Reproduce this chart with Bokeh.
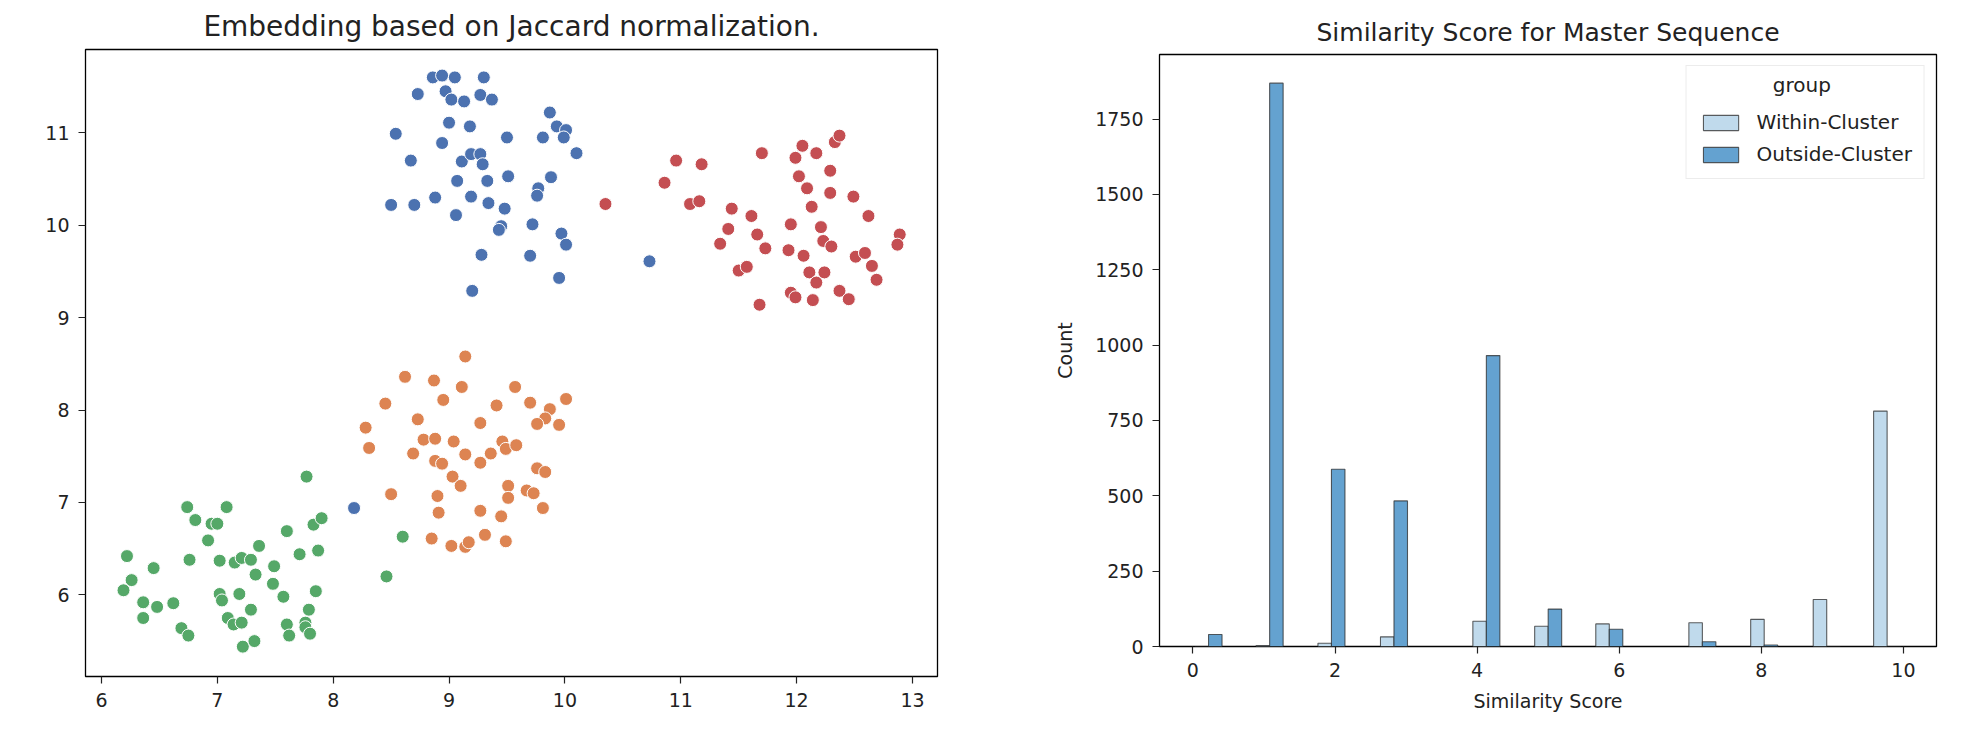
from bokeh.plotting import figure
from bokeh.layouts import row, column
from bokeh.models import FixedTicker, Range1d, Legend, LegendItem, ColumnDataSource, Label
from bokeh.embed import file_html
from bokeh.resources import INLINE

FONT = "DejaVu Sans"

# ---------------- scatter data (embedding) ----------------
blue_x = [8.86, 8.94, 9.05, 9.30, 8.73, 8.97, 9.02, 9.13, 9.27, 9.37, 9.87, 9.00, 9.18, 9.93, 10.01,
          8.54, 8.94, 9.50, 9.81, 9.99, 10.10, 8.67, 9.11, 9.19, 9.27, 9.29, 9.51, 9.07, 9.33, 9.88,
          8.88, 9.19, 9.34, 9.77, 9.76, 8.50, 8.70, 9.48, 9.06, 9.45, 9.43, 9.72, 9.97, 10.01, 9.28,
          9.70, 9.95, 9.20, 10.73, 8.18]
blue_y = [11.60, 11.62, 11.60, 11.60, 11.42, 11.45, 11.36, 11.34, 11.41, 11.36, 11.22, 11.11, 11.07, 11.07, 11.03,
          10.99, 10.89, 10.95, 10.95, 10.95, 10.78, 10.70, 10.69, 10.77, 10.77, 10.66, 10.53, 10.48, 10.48, 10.52,
          10.30, 10.31, 10.24, 10.40, 10.32, 10.22, 10.22, 10.18, 10.11, 9.99, 9.95, 10.01, 9.91, 9.79, 9.68,
          9.67, 9.43, 9.29, 9.61, 6.94]

red_x = [10.35, 10.96, 10.86, 11.18, 11.08, 11.16, 11.70, 12.05, 12.17, 11.99, 12.33, 12.37, 12.29, 12.02,
         12.09, 12.29, 12.49, 12.13, 11.44, 11.61, 12.62, 11.95, 12.21, 11.41, 11.66, 11.34, 11.73, 11.93,
         12.06, 12.23, 12.30, 12.51, 12.59, 12.65, 12.69, 12.89, 12.87, 12.11, 12.24, 12.17, 11.50, 11.57,
         11.95, 11.99, 12.14, 12.37, 12.45, 11.68]
red_y = [10.23, 10.70, 10.46, 10.66, 10.23, 10.26, 10.78, 10.86, 10.78, 10.73, 10.90, 10.97, 10.59, 10.53,
         10.40, 10.35, 10.31, 10.20, 10.18, 10.10, 10.10, 10.01, 9.98, 9.96, 9.90, 9.80, 9.75, 9.73,
         9.67, 9.83, 9.77, 9.66, 9.70, 9.56, 9.41, 9.90, 9.79, 9.49, 9.49, 9.38, 9.51, 9.55,
         9.27, 9.22, 9.19, 9.29, 9.20, 9.14]

orange_x = [9.14, 8.62, 8.87, 9.11, 9.57, 8.45, 8.95, 9.41, 9.70, 10.01, 9.87, 9.83, 8.73, 9.27, 9.76,
            9.95, 8.28, 8.31, 8.78, 8.88, 9.04, 9.46, 9.49, 9.58, 8.69, 9.14, 9.36, 8.88, 8.94, 9.27,
            9.76, 9.83, 9.03, 9.10, 9.51, 9.67, 9.73, 9.51, 8.50, 8.90, 8.91, 9.27, 9.45, 9.81, 8.85,
            9.02, 9.14, 9.17, 9.31, 9.49]
orange_y = [8.58, 8.36, 8.32, 8.25, 8.25, 8.07, 8.11, 8.05, 8.08, 8.12, 8.01, 7.91, 7.90, 7.86, 7.85,
            7.84, 7.81, 7.59, 7.68, 7.69, 7.66, 7.66, 7.58, 7.62, 7.53, 7.52, 7.53, 7.45, 7.42, 7.43,
            7.37, 7.33, 7.28, 7.18, 7.18, 7.13, 7.10, 7.05, 7.09, 7.07, 6.89, 6.91, 6.85, 6.94, 6.61,
            6.53, 6.52, 6.57, 6.65, 6.58]

green_x = [7.77, 6.74, 7.08, 6.81, 6.95, 7.00, 6.92, 7.60, 7.83, 7.90, 6.22, 6.45, 6.76, 7.02, 7.15,
           7.21, 7.29, 7.36, 7.49, 7.71, 7.87, 7.33, 6.26, 6.19, 6.36, 6.48, 6.62, 6.36, 6.69, 6.75,
           7.02, 7.04, 7.19, 7.29, 7.48, 7.57, 7.85, 7.79, 7.09, 7.14, 7.21, 7.60, 7.62, 7.76, 7.76,
           7.80, 7.22, 7.32, 8.60, 8.46]
green_y = [7.28, 6.95, 6.95, 6.81, 6.77, 6.77, 6.59, 6.69, 6.76, 6.83, 6.42, 6.29, 6.38, 6.37, 6.35,
           6.40, 6.38, 6.53, 6.31, 6.44, 6.48, 6.22, 6.16, 6.05, 5.92, 5.87, 5.91, 5.75, 5.64, 5.56,
           6.01, 5.94, 6.01, 5.84, 6.12, 5.98, 6.04, 5.84, 5.75, 5.68, 5.70, 5.68, 5.56, 5.70, 5.65,
           5.58, 5.44, 5.50, 6.63, 6.20]

scatter_xticks = [6, 7, 8, 9, 10, 11, 12, 13]
scatter_yticks = [6, 7, 8, 9, 10, 11]

# ---------------- histogram data ----------------
bin_left = [0.03, 0.89, 1.76, 2.64, 3.94, 4.81, 5.67, 6.98, 7.85, 8.73, 9.58]
within_counts = [0, 3, 11, 32, 84, 67, 75, 79, 90, 156, 781]
outside_counts = [40, 1869, 588, 483, 965, 124, 57, 16, 5, 0, 0]
hist_xticks = [0, 2, 4, 6, 8, 10]
hist_yticks = [0, 250, 500, 750, 1000, 1250, 1500, 1750]
group_labels = ["Within-Cluster", "Outside-Cluster"]
legend_title = "group"

BAR_W = 0.19


def style_axes(p, tick_size="19px"):
    p.grid.visible = False
    p.outline_line_color = "black"
    p.outline_line_width = 1.3
    for ax in (p.xaxis[0], p.yaxis[0]):
        ax.axis_line_color = None
        ax.major_tick_line_color = "#222222"
        ax.major_tick_line_width = 1.2
        ax.major_tick_out = 7
        ax.major_tick_in = 0
        ax.minor_tick_line_color = None
        ax.major_label_text_font = FONT
        ax.major_label_text_font_size = tick_size
        ax.major_label_text_color = "#222222"
        ax.major_label_standoff = 9
        ax.axis_label_text_font = FONT
        ax.axis_label_text_font_style = "normal"
        ax.axis_label_text_color = "#222222"
        ax.axis_label_text_font_size = "19px"


# ---------------- left: scatter ----------------
p1 = figure(width=1008, height=742, output_backend="svg", toolbar_location=None,
            x_range=Range1d(5.862, 13.216), y_range=Range1d(5.117, 11.902),
            min_border_left=85, min_border_right=71, min_border_top=49, min_border_bottom=66,
            title="Embedding based on Jaccard normalization.")
p1.title.text_font = FONT
p1.title.text_font_style = "normal"
p1.title.text_font_size = "28px"
p1.title.text_color = "#222222"
p1.title.align = "center"
p1.title.standoff = 14
style_axes(p1)
p1.xaxis.ticker = FixedTicker(ticks=scatter_xticks)
p1.yaxis.ticker = FixedTicker(ticks=scatter_yticks)

for xs, ys, col in [(blue_x, blue_y, "#4C72B0"), (orange_x, orange_y, "#DD8452"),
                    (green_x, green_y, "#55A868"), (red_x, red_y, "#C44E52")]:
    p1.scatter(xs, ys, size=13, fill_color=col, line_color="white", line_width=1.0)

# ---------------- right: histogram ----------------
p2 = figure(width=966, height=742, output_backend="svg", toolbar_location=None,
            x_range=Range1d(-0.47, 10.465), y_range=Range1d(0, 1964),
            min_border_left=151, min_border_right=38, min_border_top=54, min_border_bottom=96,
            title="Similarity Score for Master Sequence",
            x_axis_label="Similarity Score", y_axis_label="Count")
p2.title.text_font = FONT
p2.title.text_font_style = "normal"
p2.title.text_font_size = "25px"
p2.title.text_color = "#222222"
p2.title.align = "center"
p2.title.standoff = 15
style_axes(p2)
p2.xaxis.ticker = FixedTicker(ticks=hist_xticks)
p2.yaxis.ticker = FixedTicker(ticks=hist_yticks)
p2.xaxis.axis_label_standoff = 10
p2.yaxis.axis_label_standoff = 16

w_left = [b for b in bin_left]
w_right = [b + BAR_W for b in bin_left]
o_left = [b + BAR_W for b in bin_left]
o_right = [b + 2 * BAR_W for b in bin_left]
zeros = [0] * len(bin_left)

src_w = ColumnDataSource(dict(left=w_left, right=w_right, top=within_counts, bottom=zeros))
src_o = ColumnDataSource(dict(left=o_left, right=o_right, top=outside_counts, bottom=zeros))

r_w = p2.quad(left="left", right="right", top="top", bottom="bottom", source=src_w,
              fill_color="#c0daec", line_color="#2a2a2a", line_width=1.1, line_alpha=0.75)
r_o = p2.quad(left="left", right="right", top="top", bottom="bottom", source=src_o,
              fill_color="#64a2d0", line_color="#2a2a2a", line_width=1.1, line_alpha=0.75)

legend = Legend(items=[LegendItem(label=group_labels[0], renderers=[r_w]),
                       LegendItem(label=group_labels[1], renderers=[r_o])],
                location="top_right", title=legend_title)
legend.title_text_font = FONT
legend.title_text_font_style = "normal"
legend.title_text_font_size = "20px"
legend.title_text_alpha = 0.0
legend.title_standoff = 8
legend.label_text_font = FONT
legend.label_text_font_size = "20px"
legend.label_text_color = "#222222"
legend.glyph_width = 44
legend.glyph_height = 19
legend.spacing = 8
legend.padding = 12
legend.margin = 11
legend.label_standoff = 14
legend.border_line_color = "#d9d9d9"
legend.border_line_width = 1.3
legend.background_fill_alpha = 0.0
p2.add_layout(legend)

# centred legend title (matplotlib style)
p2.add_layout(Label(x=8.57, y=1862, text=legend_title, text_align="center", text_baseline="middle",
                    text_font=FONT, text_font_size="20px", text_color="#222222", level="overlay"))

layout = row(column(p1), column(p2))
open("out.html", "w").write(file_html(layout, INLINE))
